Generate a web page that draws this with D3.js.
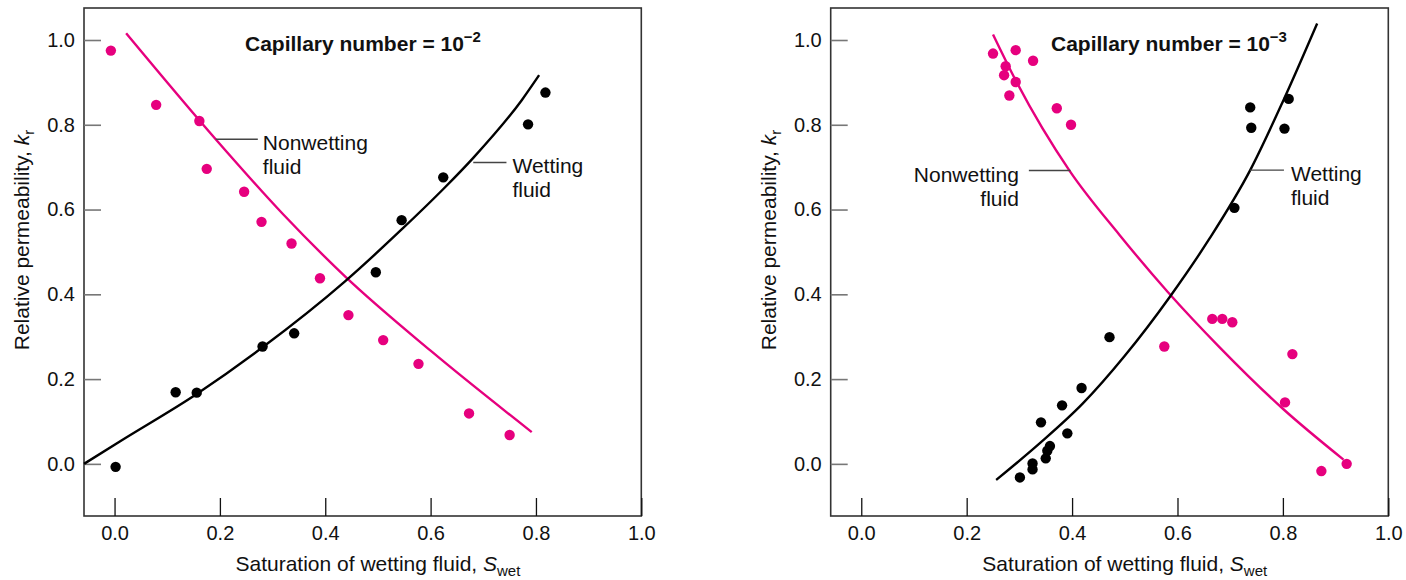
<!DOCTYPE html>
<html>
<head>
<meta charset="utf-8">
<script src="https://cdn.jsdelivr.net/npm/d3@7"></script>
<style>
  body { margin: 0; background: #fff; }
  text { font-family: "Liberation Sans", Arial, Helvetica, sans-serif; fill: #111; }
</style>
</head>
<body>
<div id="chart"></div>
<script>
// ---- data ----
const xTicks = [0.0, 0.2, 0.4, 0.6, 0.8, 1.0];
const yTicks = [0.0, 0.2, 0.4, 0.6, 0.8, 1.0];

// capillary number 1e-2
const wetPoints2 = [[0.002, -0.007], [0.116, 0.169], [0.156, 0.168], [0.281, 0.277], [0.341, 0.308],
    [0.496, 0.452], [0.545, 0.575], [0.624, 0.676], [0.785, 0.801], [0.818, 0.876]];
const nonwetPoints2 = [[-0.007, 0.975], [0.079, 0.847], [0.161, 0.809], [0.175, 0.696], [0.246, 0.642],
    [0.279, 0.571], [0.336, 0.520], [0.390, 0.438], [0.444, 0.351], [0.510, 0.292], [0.577, 0.236],
    [0.673, 0.119], [0.750, 0.068]];
const wetCurve2 = [[-0.058, 0.0], [0.01, 0.053], [0.156, 0.165], [0.281, 0.275], [0.437, 0.43],
    [0.545, 0.553], [0.627, 0.652], [0.681, 0.722], [0.773, 0.858], [0.806, 0.917]];
const nonwetCurve2 = [[0.022, 1.016], [0.192, 0.766], [0.32, 0.589], [0.437, 0.443], [0.6, 0.267], [0.792, 0.075]];

// capillary number 1e-3
const wetPoints3 = [[0.471, 0.299], [0.418, 0.179], [0.381, 0.138], [0.341, 0.098], [0.391, 0.072],
    [0.358, 0.042], [0.353, 0.031], [0.350, 0.013], [0.325, 0.001], [0.325, -0.013], [0.301, -0.032],
    [0.708, 0.604], [0.738, 0.841], [0.740, 0.793], [0.803, 0.791], [0.811, 0.861]];
const nonwetPoints3 = [[0.250, 0.968], [0.293, 0.976], [0.326, 0.951], [0.274, 0.938], [0.271, 0.917],
    [0.293, 0.901], [0.281, 0.869], [0.371, 0.839], [0.398, 0.800], [0.575, 0.277], [0.666, 0.342],
    [0.685, 0.342], [0.704, 0.334], [0.818, 0.259], [0.804, 0.145], [0.873, -0.017], [0.921, 0.0]];
const wetCurve3 = [[0.256, -0.038], [0.34, 0.05], [0.42, 0.142], [0.5, 0.255], [0.586, 0.395],
    [0.66, 0.53], [0.738, 0.693], [0.8, 0.855], [0.865, 1.039]];
const nonwetCurve3 = [[0.25, 1.013], [0.295, 0.9], [0.396, 0.69], [0.49, 0.54], [0.582, 0.405],
    [0.68, 0.275], [0.8, 0.13], [0.915, 0.01]];

const xDomain = [-0.058, 1.0];
const yDomain = [-0.123, 1.0755];

document.addEventListener('DOMContentLoaded', function () {
    const width = 1406;
    const height = 580;
    const pink = '#e6007e';

    const svg = d3.select('#chart')
        .append('svg')
        .attr('width', width)
        .attr('height', height);

    const panels = [
        {
            left: 84, right: 641.3, top: 8, bottom: 516, exp: '\u22122', titleX: 245,
            wet: wetPoints2, nonwet: nonwetPoints2, wetCurve: wetCurve2, nonwetCurve: nonwetCurve2,
            notes: [
                { x1: 0.192, x2: 0.272, y: 0.766, anchor: 'start', dx: 5, lines: ['Nonwetting', 'fluid'] },
                { x1: 0.681, x2: 0.744, y: 0.711, anchor: 'start', dx: 6, lines: ['Wetting', 'fluid'] }
            ]
        },
        {
            left: 830.7, right: 1388.3, top: 8, bottom: 516, exp: '\u22123', titleX: 1051,
            wet: wetPoints3, nonwet: nonwetPoints3, wetCurve: wetCurve3, nonwetCurve: nonwetCurve3,
            notes: [
                { x1: 0.397, x2: 0.318, y: 0.692, anchor: 'end', dx: -10, lines: ['Nonwetting', 'fluid'] },
                { x1: 0.7376, x2: 0.802, y: 0.693, anchor: 'start', dx: 7, lines: ['Wetting', 'fluid'] }
            ]
        }
    ];

    panels.forEach(p => {
        const x = d3.scaleLinear().domain(xDomain).range([p.left, p.right]);
        const y = d3.scaleLinear().domain(yDomain).range([p.bottom, p.top]);
        const g = svg.append('g');

        // frame
        g.append('rect')
            .attr('x', p.left).attr('y', p.top)
            .attr('width', p.right - p.left).attr('height', p.bottom - p.top)
            .attr('fill', 'none')
            .attr('stroke', '#333')
            .attr('stroke-width', 1.6);

        // x axis: ticks pointing inward
        const xAxis = g.append('g')
            .attr('transform', `translate(0,${p.bottom})`)
            .call(d3.axisBottom(x).tickValues(xTicks).tickFormat(d3.format('.1f'))
                .tickSizeInner(-18).tickSizeOuter(0).tickPadding(10));
        xAxis.select('.domain').remove();
        xAxis.selectAll('.tick line').attr('stroke', '#111').attr('stroke-width', 1.3);
        xAxis.selectAll('.tick text').attr('font-size', 20).attr('font-family', null).attr('fill', '#111');

        const yAxis = g.append('g')
            .attr('transform', `translate(${p.left},0)`)
            .call(d3.axisLeft(y).tickValues(yTicks).tickFormat(d3.format('.1f'))
                .tickSizeInner(-17).tickSizeOuter(0).tickPadding(9));
        yAxis.select('.domain').remove();
        yAxis.selectAll('.tick line').attr('stroke', '#777').attr('stroke-width', 1.6);
        yAxis.selectAll('.tick text').attr('font-size', 20).attr('font-family', null).attr('fill', '#111');

        // axis titles
        const xt = g.append('text')
            .attr('x', x(0.5)).attr('y', 571)
            .attr('text-anchor', 'middle')
            .attr('font-size', 21);
        xt.append('tspan').text('Saturation of wetting fluid, ');
        xt.append('tspan').attr('font-style', 'italic').text('S');
        xt.append('tspan').attr('font-size', 15).attr('dy', 5).text('wet');

        const yt = g.append('text')
            .attr('transform', `translate(${p.left - 55},240) rotate(-90)`)
            .attr('text-anchor', 'middle')
            .attr('font-size', 21);
        yt.append('tspan').text('Relative permeability, ');
        yt.append('tspan').attr('font-style', 'italic').text('k');
        yt.append('tspan').attr('font-size', 15).attr('dy', 5).text('r');

        // title
        const tt = g.append('text')
            .attr('x', p.titleX).attr('y', 51)
            .attr('font-size', 21)
            .attr('font-weight', 'bold');
        tt.append('tspan').text('Capillary number = 10');
        tt.append('tspan').attr('font-size', 15).attr('dy', -9).text(p.exp);

        // curves
        const line = d3.line()
            .x(d => x(d[0]))
            .y(d => y(d[1]))
            .curve(d3.curveMonotoneX);

        g.append('path')
            .datum(p.nonwetCurve)
            .attr('d', line)
            .attr('fill', 'none')
            .attr('stroke', pink)
            .attr('stroke-width', 2.4);

        g.append('path')
            .datum(p.wetCurve)
            .attr('d', line)
            .attr('fill', 'none')
            .attr('stroke', '#000')
            .attr('stroke-width', 2.4);

        // points
        g.selectAll('circle.nonwet')
            .data(p.nonwet)
            .enter().append('circle')
            .attr('class', 'nonwet')
            .attr('cx', d => x(d[0]))
            .attr('cy', d => y(d[1]))
            .attr('r', 5.2)
            .attr('fill', pink);

        g.selectAll('circle.wet')
            .data(p.wet)
            .enter().append('circle')
            .attr('class', 'wet')
            .attr('cx', d => x(d[0]))
            .attr('cy', d => y(d[1]))
            .attr('r', 5.2)
            .attr('fill', '#000');

        // curve labels with leader lines
        p.notes.forEach(n => {
            g.append('line')
                .attr('x1', x(n.x1)).attr('x2', x(n.x2))
                .attr('y1', y(n.y)).attr('y2', y(n.y))
                .attr('stroke', '#444')
                .attr('stroke-width', 1.4);
            const t = g.append('text')
                .attr('x', x(n.x2) + n.dx)
                .attr('y', y(n.y) + 11)
                .attr('text-anchor', n.anchor)
                .attr('font-size', 21);
            t.selectAll('tspan')
                .data(n.lines)
                .enter().append('tspan')
                .attr('x', x(n.x2) + n.dx)
                .attr('dy', (d, i) => i === 0 ? 0 : 24)
                .text(d => d);
        });
    });
});
</script>
</body>
</html>
